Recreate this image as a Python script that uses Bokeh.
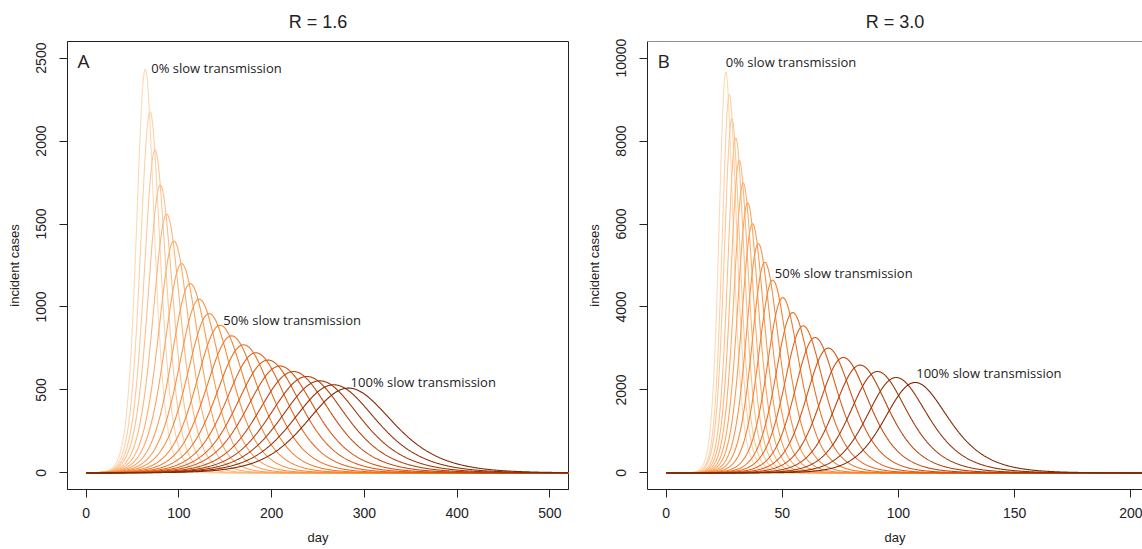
import numpy as np
from bokeh.plotting import figure
from bokeh.layouts import row
from bokeh.models import FixedTicker, Label, Range1d, Span
from bokeh.embed import file_html
from bokeh.resources import INLINE

# ---------------- data ----------------
slow_pct = [0, 5, 10, 15, 20, 25, 30, 35, 40, 45, 50, 55, 60, 65, 70, 75, 80, 85, 90, 95, 100]

# Panel A (R = 1.6): day of peak and peak incident cases for each curve
peak_day_A = [63.8, 69.0, 74.3, 80.0, 86.9, 94.7, 103.0, 112.3, 122.0, 132.7, 144.6,
              156.8, 169.8, 183.0, 196.2, 209.0, 223.6, 238.0, 252.0, 267.0, 283.0]
peak_cases_A = [2433, 2176, 1947, 1735, 1559, 1398, 1261, 1141, 1047, 960, 890,
                826, 772, 724, 680, 644, 611, 581, 555, 531, 511]

# Panel B (R = 3.0)
peak_day_B = [25.7, 27.2, 28.3, 30.0, 31.5, 33.2, 35.1, 37.2, 39.7, 42.5, 45.9,
              50.2, 54.5, 59.0, 64.1, 69.8, 76.3, 83.5, 91.0, 99.0, 107.2]
peak_cases_B = [9663, 9120, 8542, 8075, 7531, 6993, 6511, 6006, 5525, 5077, 4644,
                4225, 3865, 3544, 3263, 3008, 2782, 2599, 2445, 2300, 2180]

# estimated total cases under each curve (area) and tail asymmetry (decline/rise)
total_cases_A = 64000
total_cases_B = 82000
decline_ratio_A = 0.82
decline_ratio_B = 0.68

days_A = np.arange(0, 520.5, 0.5)
days_B = np.arange(0, 205.2, 0.2)

xticks_A = [0, 100, 200, 300, 400, 500]
yticks_A = [0, 500, 1000, 1500, 2000, 2500]
xticks_B = [0, 50, 100, 150, 200]
yticks_B = [0, 2000, 4000, 6000, 8000, 10000]

titles = ["R = 1.6", "R = 3.0"]
panel_letters = ["A", "B"]
annot_pct = [0, 50, 100]


def epi_curve(t, tp, peak, area, ratio):
    inv_a = area / peak / (1.0 + 1.0 / ratio)
    a = 1.0 / inv_a
    b = ratio * a
    tau = t - tp
    return peak * ((a + b) / (b * np.exp(-a * tau) + a * np.exp(b * tau))) ** 2


def hex2rgb(h):
    h = h.lstrip("#")
    return [int(h[i:i + 2], 16) for i in (0, 2, 4)]


stops = [(0.0, "#fdd9b6"), (0.25, "#fdad6a"), (0.5, "#f7822f"), (0.75, "#d8520f"), (1.0, "#7f2704")]


def color_at(f):
    for (f0, c0), (f1, c1) in zip(stops[:-1], stops[1:]):
        if f <= f1:
            u = (f - f0) / (f1 - f0)
            r0, r1 = hex2rgb(c0), hex2rgb(c1)
            return "#%02x%02x%02x" % tuple(int(round(x0 + (x1 - x0) * u)) for x0, x1 in zip(r0, r1))
    return stops[-1][1]


FONT = "Liberation Sans"
ANN_FONT = "Open Sans"


def make_panel(idx, width, min_right, xr, yr, xticks, yticks, days, pdays, pcases, area, ratio,
               ann_offsets):
    p = figure(width=width, height=549, x_range=Range1d(*xr), y_range=Range1d(*yr),
               output_backend="svg", toolbar_location=None,
               min_border_left=67, min_border_right=min_right, min_border_top=40,
               min_border_bottom=60, title=titles[idx])
    p.title.align = "center"
    p.title.text_font = FONT
    p.title.text_font_size = "18px"
    p.title.text_font_style = "normal"
    p.title.text_color = "#222222"
    p.title.standoff = 19
    p.xgrid.visible = False
    p.ygrid.visible = False
    p.background_fill_color = "white"
    p.border_fill_color = "white"
    p.outline_line_color = "#222222"
    p.outline_line_width = 1

    for ax, ticks in ((p.xaxis, xticks), (p.yaxis, yticks)):
        ax.ticker = FixedTicker(ticks=ticks)
        ax.minor_tick_line_color = None
        ax.major_tick_in = 0
        ax.major_tick_out = 8
        ax.major_tick_line_color = "#222222"
        ax.axis_line_color = "#222222"
        ax.major_label_text_font = FONT
        ax.major_label_text_font_size = "14px"
        ax.major_label_text_color = "#222222"
        ax.axis_label_text_font = FONT
        ax.axis_label_text_font_size = "13px"
        ax.axis_label_text_font_style = "normal"
        ax.axis_label_text_color = "#222222"
    p.xaxis.axis_label = "day"
    p.yaxis.axis_label = "incident cases"
    p.yaxis.major_label_orientation = "vertical"
    p.xaxis.major_label_standoff = 10
    p.yaxis.major_label_standoff = 13
    p.xaxis.axis_label_standoff = 9
    p.yaxis.axis_label_standoff = 12

    n = len(slow_pct)
    for i in range(n):
        y = epi_curve(days, pdays[i], pcases[i], area, ratio)
        p.line(days, y, line_color=color_at(i / (n - 1)), line_width=1.1)

    for pct, (dx, dy) in zip(annot_pct, ann_offsets):
        i = slow_pct.index(pct)
        p.add_layout(Label(x=pdays[i], y=pcases[i], x_offset=dx, y_offset=dy,
                           text="%d%% slow transmission" % pct, text_font=ANN_FONT,
                           text_font_size="13px", text_color="#222222",
                           text_baseline="middle", text_align="left"))
    p.add_layout(Label(x=xr[0], y=yr[1], x_offset=10, y_offset=-6, text=panel_letters[idx],
                       text_font=ANN_FONT, text_font_size="19px", text_color="#222222",
                       text_baseline="top", text_align="left"))
    return p


pA = make_panel(0, 580, 12, (-20, 520), (-100, 2600), xticks_A, yticks_A, days_A,
                peak_day_A, peak_cases_A, total_cases_A, decline_ratio_A,
                [(6, 1), (3, 5), (2, 6)])
pB = make_panel(1, 562, 0, (-8, 205), (-400, 10400), xticks_B, yticks_B, days_B,
                peak_day_B, peak_cases_B, total_cases_B, decline_ratio_B,
                [(0, 10), (2, 7), (1, 9)])
pB.outline_line_color = None
pB.add_layout(Span(location=10400, dimension="width", line_color="#222222", line_width=1))
pB.title.offset = 4

layout = row(pA, pB)
open("out.html", "w").write(file_html(layout, INLINE))
